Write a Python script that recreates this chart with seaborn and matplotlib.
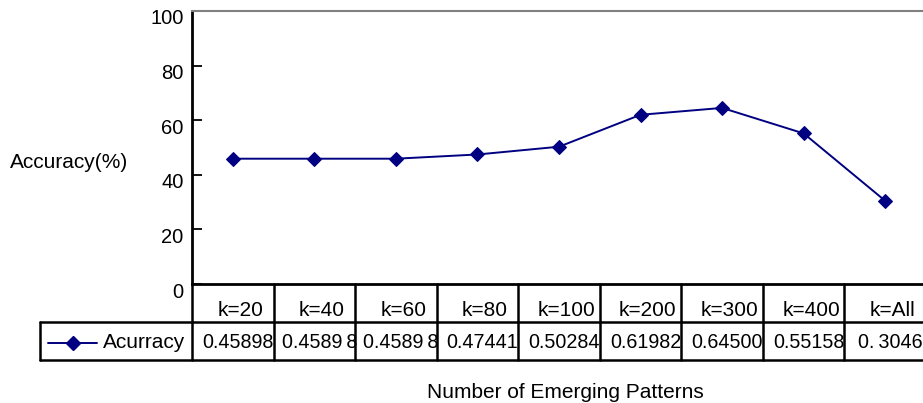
import matplotlib
matplotlib.use("Agg")
import matplotlib.pyplot as plt
import matplotlib.transforms as mtrans
import seaborn as sns
import pandas as pd

categories = ["k=20", "k=40", "k=60", "k=80", "k=100", "k=200", "k=300", "k=400", "k=All"]
accuracy = [0.45898, 0.45898, 0.45898, 0.47441, 0.50284, 0.61982, 0.64500, 0.55158, 0.3046]
table_labels = ["0.45898", "0.4589\u20098", "0.4589\u20098", "0.47441", "0.50284",
                "0.61982", "0.64500", "0.55158", "0.\u20093046"]
series_name = "Acurracy"
yticks = [0, 20, 40, 60, 80, 100]

sns.set_theme(style="white")
plt.rcParams["font.family"] = ["Liberation Sans", "DejaVu Sans"]
plt.rcParams["text.color"] = "black"
plt.rcParams["ytick.labelcolor"] = "black"

FS = 15
W, H = 923, 403
fig = plt.figure(figsize=(W / 100, H / 100), dpi=100)

# plot area in pixel coordinates
left_px, right_px, top_px, bottom_px = 192, 926, 11, 284
ax = fig.add_axes([left_px / W, 1 - bottom_px / H, (right_px - left_px) / W, (bottom_px - top_px) / H])

df = pd.DataFrame({"pos": range(len(categories)), "acc": [v * 100 for v in accuracy]})
navy = "#000080"
sns.lineplot(data=df, x="pos", y="acc", ax=ax, color=navy, marker="D",
             markersize=7, markeredgecolor=navy, linewidth=1.4)

ax.set_xlim(-0.5, len(categories) - 0.5)
ax.set_ylim(0, 100)
ax.set_yticks(yticks)
ax.set_yticklabels([str(t) for t in yticks], fontsize=14.5, color="black")
ax.set_xticks([])
ax.set_xlabel("")
ax.set_ylabel("")
ax.tick_params(axis="y", direction="in", length=7, width=1.3, color="black", left=True, pad=6)
offset = mtrans.ScaledTranslation(0, -6 / 100, fig.dpi_scale_trans)
for lab in ax.get_yticklabels():
    lab.set_transform(lab.get_transform() + offset)

ax.spines["left"].set_color("black")
ax.spines["left"].set_linewidth(2)
ax.spines["bottom"].set_color("black")
ax.spines["bottom"].set_linewidth(2)
ax.spines["top"].set_color("#808080")
ax.spines["top"].set_linewidth(1.5)
ax.spines["right"].set_visible(False)

# data table below the plot area
table_bot_px = 360
tax = fig.add_axes([left_px / W, 1 - table_bot_px / H, (right_px - left_px) / W, (table_bot_px - bottom_px) / H])
tax.set_xlim(-0.5, len(categories) - 0.5)
tax.set_ylim(0, 2)
tax.axis("off")

col_w_px = (right_px - left_px) / len(categories)
legend_left = -0.5 - (left_px - 40) / col_w_px
lw = 1.8
tax.plot([-0.5, len(categories) - 0.5], [1, 1], color="black", lw=lw, clip_on=False)
tax.plot([legend_left, len(categories) - 0.5], [0, 0], color="black", lw=lw, clip_on=False)
tax.plot([legend_left, -0.5], [1, 1], color="black", lw=lw, clip_on=False)
tax.plot([legend_left, legend_left], [0, 1], color="black", lw=lw, clip_on=False)
for i in range(len(categories) + 1):
    tax.plot([i - 0.5, i - 0.5], [0, 2], color="black", lw=lw, clip_on=False)

for i, (cat, lab) in enumerate(zip(categories, table_labels)):
    tax.text(i + 0.09, 1.17, cat, ha="center", va="baseline", fontsize=FS)
    tax.text(i + 0.06, 0.45, lab, ha="center", va="center", fontsize=14.2)

# legend key inside the table
key_l = -0.5 - (left_px - 48) / col_w_px
key_r = -0.5 - (left_px - 97) / col_w_px
tax.plot([key_l, key_r], [0.45, 0.45], color=navy, lw=1.4, clip_on=False)
tax.plot([(key_l + key_r) / 2], [0.45], marker="D", markersize=7, color=navy, clip_on=False)
tax.text(-0.5 - (left_px - 103) / col_w_px, 0.45, series_name, ha="left", va="center", fontsize=FS)

fig.text(10 / W, 1 - 162 / H, "Accuracy(%)", ha="left", va="center", fontsize=FS)
fig.text(565 / W, 1 - 392 / H, "Number of Emerging Patterns", ha="center", va="center", fontsize=FS)

fig.savefig("out.png", dpi=100, facecolor="white")
